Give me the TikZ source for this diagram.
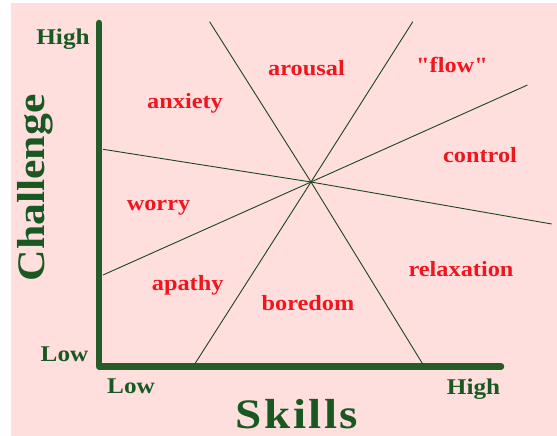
\documentclass[tikz,border=0pt]{standalone}
\usepackage{fontspec}
\setmainfont{Liberation Serif}[FakeStretch=1.12]
\newfontfamily\plainserif{Liberation Serif}[FakeStretch=1.12]
\definecolor{bgpink}{RGB}{255,222,222}
\definecolor{axgreen}{RGB}{38,92,40}
\definecolor{txtgreen}{RGB}{26,88,34}
\definecolor{lngreen}{RGB}{28,70,28}
\definecolor{lblred}{RGB}{240,22,30}
\tikzset{
  region/.style={text=lblred, font=\plainserif\bfseries\fontsize{21.7}{24}\selectfont, anchor=base, inner sep=0pt},
  tick/.style={text=txtgreen, font=\bfseries\fontsize{22.5}{25}\selectfont, anchor=base, inner sep=0pt},
  axtitle/.style={text=txtgreen, font=\bfseries\fontsize{#1}{#1}\selectfont, anchor=base, inner sep=0pt},
  axisline/.style={draw=axgreen, line width=6.5pt, line cap=round, line join=round},
  divider/.style={draw=lngreen, line width=0.9pt}
}
\begin{document}
\begin{tikzpicture}[x=1pt,y=-1pt]
\useasboundingbox (0,0) rectangle (557,436);
\fill[white] (0,0) rectangle (557,436);
\fill[bgpink] (11,3) rectangle (557,436);

% axes
\coordinate (ytop) at (99,23);
\coordinate (origin) at (99,366.5);
\coordinate (xend) at (501,366.5);
\draw[axisline] (ytop) -- (origin) -- (xend);

% dividing lines
\coordinate (c) at (311,182);
\coordinate (a1) at (209.6,21.7);
\coordinate (a2) at (422.7,364);
\coordinate (b1) at (412.8,21.7);
\coordinate (b2) at (195.4,363);
\coordinate (d1) at (103,149.3);
\coordinate (d2) at (551.7,224);
\coordinate (e1) at (103,275);
\coordinate (e2) at (527.5,85);
\draw[divider] (a1) -- (c) -- (a2);
\draw[divider] (b1) -- (c) -- (b2);
\draw[divider] (d1) -- (c) -- (d2);
\draw[divider] (e1) -- (c) -- (e2);

% axis ticks
\node[tick] (yhigh) at (63,45) {High};
\node[tick] (ylow) at (64.5,361) {Low};
\node[tick] (xlow) at (131,393) {Low};
\node[tick] (xhigh) at (473.5,394) {High};

% axis titles
\node[axtitle=42] (skills) at (297,428) {\addfontfeature{LetterSpace=6}Skills};
\node[axtitle=39, rotate=90] (challenge) at (44,188) {Challenge};

% regions
\node[region] (anxiety) at (185,108) {anxiety};
\node[region] (arousal) at (306.5,75) {arousal};
\node[region] (flow) at (452,73) {"flow"};
\node[region] (control) at (480,162) {control};
\node[region] (worry) at (158.5,210) {worry};
\node[region] (apathy) at (187.7,290.5) {apathy};
\node[region] (boredom) at (308,310) {boredom};
\node[region] (relax) at (461,276.7) {relaxation};
\end{tikzpicture}
\end{document}
